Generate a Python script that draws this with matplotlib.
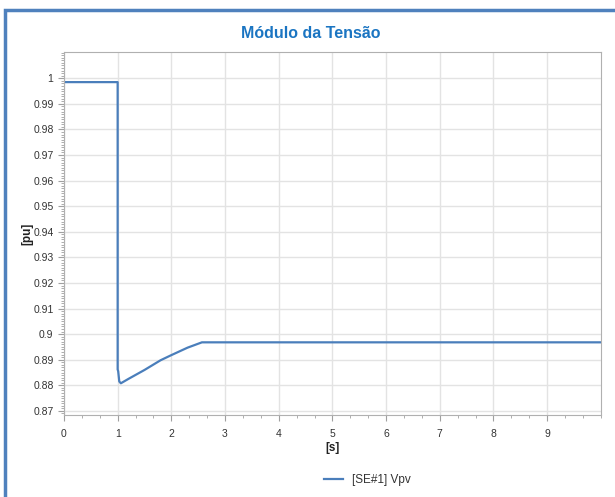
import numpy as np
import matplotlib
matplotlib.use("Agg")
import matplotlib.pyplot as plt
from matplotlib.patches import Rectangle
from matplotlib.ticker import MultipleLocator, AutoMinorLocator

# dados
tempo = [0, 1.0, 1.0, 1.01, 1.03, 1.06, 1.2, 1.5, 1.8, 2.0, 2.3, 2.57, 10.0]
tensao = [0.9985, 0.9985, 0.8862, 0.8855, 0.8815, 0.8808, 0.8825, 0.8860,
          0.8898, 0.8918, 0.8947, 0.8968, 0.8968]
xticks = list(range(0, 10))
yticks = [0.87, 0.88, 0.89, 0.9, 0.91, 0.92, 0.93, 0.94, 0.95, 0.96, 0.97, 0.98, 0.99, 1]
ytick_labels = ["0.87", "0.88", "0.89", "0.9", "0.91", "0.92", "0.93", "0.94",
                "0.95", "0.96", "0.97", "0.98", "0.99", "1"]

plt.rcParams['font.family'] = ['Liberation Sans', 'DejaVu Sans']

fig = plt.figure(figsize=(6.15, 4.97), dpi=100)
ax = fig.add_axes([0.104, 0.165, 0.873, 0.73])

linha, = ax.plot(tempo, tensao, color='#4a7ebb', lw=1.6, label='[SE#1] Vpv')

ax.set_xlim(0, 10)
ax.set_ylim(0.8684, 1.0102)
ax.set_xticks(xticks)
ax.set_yticks(yticks)
ax.set_yticklabels(ytick_labels)
ax.xaxis.set_minor_locator(AutoMinorLocator(3))
ax.yaxis.set_minor_locator(MultipleLocator(0.001))
ax.grid(True, which='major', color='#e3e3e3', lw=1)
ax.set_axisbelow(True)

for s in ax.spines.values():
    s.set_color('#b0b0b0')
ax.tick_params(which='both', direction='out', colors='#a0a0a0', labelcolor='#333333',
               labelsize=7.5)
ax.tick_params(which='major', length=4)
ax.tick_params(which='minor', length=2.5)
ax.tick_params(axis='x', pad=6)

ax.set_xlabel('[s]', fontsize=8.5, fontweight='bold', color='#222222', labelpad=2)
ax.set_ylabel('[pu]', fontsize=8.5, fontweight='bold', color='#222222', labelpad=0)

fig.text(0.505, 0.933, 'Módulo da Tensão', ha='center', va='center', fontsize=11.5,
         fontweight='bold', color='#1b75c2')

fig.legend(handles=[linha], loc='center', bbox_to_anchor=(0.597, 0.034), frameon=False,
           fontsize=8.5, handlelength=1.6, labelcolor='#333333')

borda = Rectangle((0.008, -0.2), 1.2, 1.18, transform=fig.transFigure, fill=False,
                  edgecolor='#4f81bd', lw=2.5, clip_on=False)
fig.patches.append(borda)

fig.savefig('out.png', dpi=100)
